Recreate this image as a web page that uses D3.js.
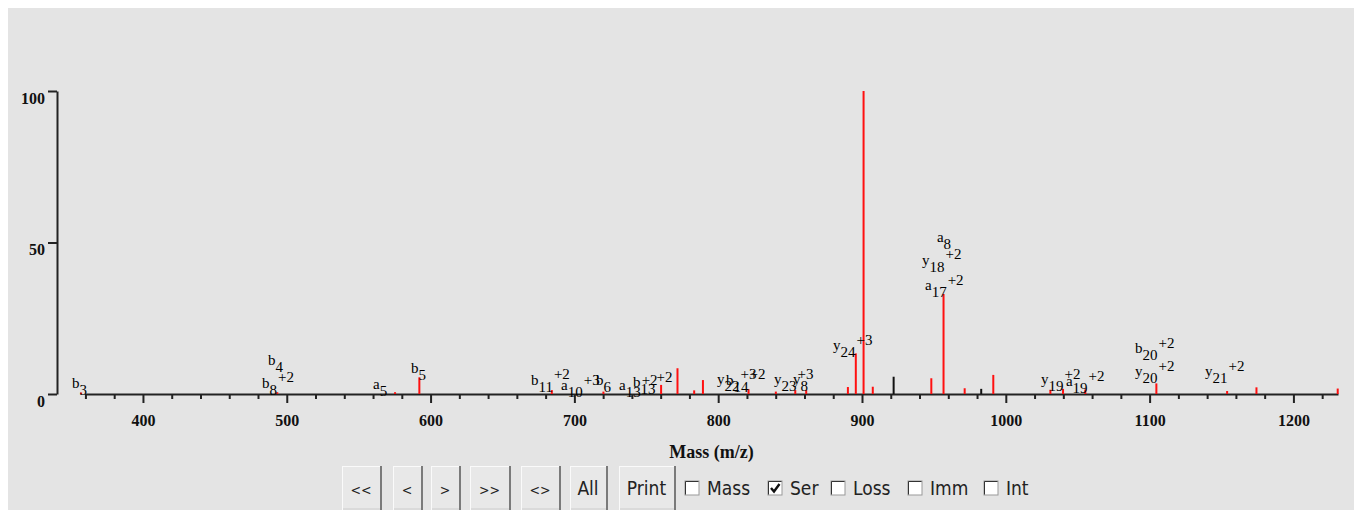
<!DOCTYPE html>
<html>
<head>
<meta charset="utf-8">
<script src="https://cdn.jsdelivr.net/npm/d3@7"></script>
<style>
  html, body { margin: 0; padding: 0; background: #ffffff; }
  svg { display: block; }
</style>
</head>
<body>
<svg id="chart" width="1354" height="510"></svg>
<script>
// Peak list: m/z, relative intensity (%), matched (red) or unmatched (black)
const peakMz = [357.0, 493.4, 575.3, 592.2, 684.3, 720.2, 760.3, 771.7, 783.3, 789.4,
                821.1, 840.1, 853.6, 861.2, 890.2, 895.7, 901.1, 907.5, 922.0, 948.2,
                956.7, 971.4, 982.9, 991.3, 1031.0, 1039.8, 1055.3, 1104.7, 1153.9, 1174.3, 1230.8];
const peakIntensity = [0.5, 0.6, 0.6, 5.5, 1.3, 0.8, 3.0, 8.5, 1.2, 4.6,
                       1.6, 0.8, 1.3, 1.3, 2.3, 13.4, 100, 2.4, 5.7, 5.2,
                       33.0, 1.9, 1.7, 6.3, 1.4, 1.7, 1.5, 3.5, 1.0, 2.2, 1.8];
const peakMatched = [1, 1, 1, 1, 1, 1, 1, 1, 1, 1,
                     1, 1, 1, 1, 1, 1, 1, 1, 0, 1,
                     1, 1, 0, 1, 1, 1, 1, 1, 1, 1, 1];

// Fragment ion annotations: ion type, ion number, charge, label m/z, label level (%)
const ionType   = ["b", "b", "b", "a", "b", "b", "a", "b", "a", "b", "y", "b", "y", "y", "y",
                   "a", "y", "a", "y", "a", "b", "y", "y"];
const ionNumber = [3, 4, 8, 5, 5, 11, 10, 6, 13, 13, 22, 14, 23, 8, 24,
                   17, 18, 8, 19, 19, 20, 20, 21];
const ionCharge = [1, 1, 2, 1, 1, 2, 3, 1, 2, 2, 3, 2, 3, 1, 3,
                   2, 2, 1, 2, 2, 2, 2, 2];
const ionMz     = [350.7, 486.9, 482.8, 560.0, 586.4, 669.8, 690.7, 715.0, 731.0, 740.8, 799.2, 805.4, 838.8, 852.0, 879.8,
                   943.8, 941.7, 952.1, 1024.5, 1041.8, 1089.8, 1089.8, 1138.5];
const ionLevel  = [2.0, 9.6, 2.0, 1.65, 6.9, 3.0, 1.3, 3.0, 1.3, 2.3, 3.3, 3.0, 3.3, 3.3, 14.5,
                   34.3, 42.6, 50.2, 3.3, 2.6, 13.5, 5.9, 5.9];

// Axis ticks
const xMajorTicks = [400, 500, 600, 700, 800, 900, 1000, 1100, 1200];
const xMinorTicks = d3.range(360, 1231, 20).filter(v => v % 100 !== 0);
const yTicks = [0, 50, 100];
const xDomain = [359.7, 1231];

// Controls under the plot
const buttonLabels = ["<<", "<", ">", ">>", "<>", "All", "Print"];
const checkLabels = ["Mass", "Ser", "Loss", "Imm", "Int"];
const checkStates = [false, true, false, false, false];

const svg = d3.select("#chart");

// panel background
svg.append("rect").attr("x", 8).attr("y", 8).attr("width", 1346).attr("height", 502)
  .attr("fill", "#e4e4e4");

const x = d3.scaleLinear().domain(xDomain).range([85, 1338]);
const y = d3.scaleLinear().domain([0, 100]).range([394, 91]);

const serif = "'Liberation Serif', 'Times New Roman', serif";

// x axis: major ticks with labels, minor ticks without
const xAxis = svg.append("g").attr("transform", "translate(0,394)")
  .call(d3.axisBottom(x).tickValues(xMajorTicks).tickSize(9).tickSizeOuter(0).tickFormat(d3.format("d")));
xAxis.select(".domain").attr("stroke", "#222").attr("stroke-width", 2);
xAxis.selectAll(".tick line").attr("stroke", "#222").attr("stroke-width", 2);
xAxis.selectAll(".tick text")
  .attr("y", 21).attr("dy", "0.71em")
  .attr("font-family", serif).attr("font-weight", "bold").attr("font-size", 16).attr("fill", "#111");

const xMinor = svg.append("g").attr("transform", "translate(0,394)")
  .call(d3.axisBottom(x).tickValues(xMinorTicks).tickSize(5).tickSizeOuter(0).tickFormat(""));
xMinor.select(".domain").remove();
xMinor.selectAll(".tick line").attr("stroke", "#222").attr("stroke-width", 2);

// y axis
const yAxis = svg.append("g").attr("transform", "translate(57,0)")
  .call(d3.axisLeft(y).tickValues(yTicks).tickSize(9).tickSizeOuter(0).tickFormat(d3.format("d")));
yAxis.select(".domain").attr("stroke", "#222").attr("stroke-width", 2);
yAxis.selectAll(".tick line").attr("stroke", "#222").attr("stroke-width", 2);
yAxis.selectAll(".tick text")
  .attr("x", -12).attr("dy", "0.78em")
  .attr("font-family", serif).attr("font-weight", "bold").attr("font-size", 16).attr("fill", "#111");

// axis title
svg.append("text").attr("x", (x.range()[0] + x.range()[1]) / 2).attr("y", 458)
  .attr("text-anchor", "middle")
  .attr("font-family", serif).attr("font-weight", "bold").attr("font-size", 18).attr("fill", "#111")
  .text("Mass (m/z)");

// peaks
const peaks = peakMz.map((m, i) => ({ mz: m, intensity: peakIntensity[i], matched: peakMatched[i] === 1 }));
svg.append("g").selectAll("line").data(peaks).join("line")
  .attr("x1", d => x(d.mz)).attr("x2", d => x(d.mz))
  .attr("y1", y(0)).attr("y2", d => y(d.intensity))
  .attr("stroke", d => d.matched ? "#ff1010" : "#111")
  .attr("stroke-width", 2);

// ion labels: letter, subscript number, superscript charge
const ions = ionType.map((t, i) => ({ type: t, n: ionNumber[i], z: ionCharge[i], mz: ionMz[i], level: ionLevel[i] }));
const labels = svg.append("g")
  .attr("font-family", serif).attr("font-size", 15).attr("fill", "#000");
ions.forEach(d => {
  const t = labels.append("text").attr("x", x(d.mz)).attr("y", y(d.level));
  t.append("tspan").text(d.type);
  t.append("tspan").attr("dy", 7).text(d.n);
  if (d.z > 1) t.append("tspan").attr("dx", 1).attr("dy", -12.5).text("+" + d.z);
});

// button row
const uiFont = "'Liberation Sans Narrow', 'DejaVu Sans Condensed', sans-serif";
const btnX = [342, 393, 431, 470, 521, 570, 619];
const btnWidths = [40, 30, 30, 41, 40, 38, 57];
const btnTop = 466, btnH = 44;
const btns = svg.append("g");
buttonLabels.forEach((lab, i) => {
  const w = btnWidths[i];
  const g = btns.append("g").attr("transform", `translate(${btnX[i]},${btnTop})`);
  g.append("rect").attr("width", w).attr("height", btnH).attr("fill", "#dadada");
  g.append("rect").attr("x", 1).attr("y", 1).attr("width", w - 3).attr("height", btnH - 3).attr("fill", "#e8e8e8");
  g.append("line").attr("x1", 0.5).attr("x2", 0.5).attr("y1", 0).attr("y2", btnH).attr("stroke", "#fafafa");
  g.append("line").attr("x1", 0).attr("x2", w).attr("y1", 0.5).attr("y2", 0.5).attr("stroke", "#fafafa");
  g.append("line").attr("x1", w - 1).attr("x2", w - 1).attr("y1", 0).attr("y2", btnH).attr("stroke", "#7a7a7a").attr("stroke-width", 2);
  g.append("text").attr("x", w / 2 - 1).attr("y", 29).attr("text-anchor", "middle")
    .attr("font-family", uiFont).attr("font-size", lab.length > 2 || /[A-Za-z]/.test(lab) ? 19 : 14)
    .attr("fill", "#222").text(lab);
});

// checkboxes
const checkX = [685, 768, 831, 908, 984];
checkLabels.forEach((lab, i) => {
  const g = btns.append("g").attr("transform", `translate(${checkX[i]},${btnTop + 15})`);
  g.append("rect").attr("width", 14).attr("height", 14).attr("fill", "#fff").attr("stroke", "#999");
  g.append("path").attr("d", "M0.5,13.5 V0.5 H13.5").attr("fill", "none").attr("stroke", "#333");
  if (checkStates[i]) {
    g.append("path").attr("d", "M3,7 L6,10.5 L11.5,3").attr("fill", "none")
      .attr("stroke", "#111").attr("stroke-width", 2.4);
  }
  g.append("text").attr("x", 22).attr("y", 14).attr("font-family", uiFont)
    .attr("font-size", 19).attr("fill", "#222").text(lab);
});
</script>
</body>
</html>
